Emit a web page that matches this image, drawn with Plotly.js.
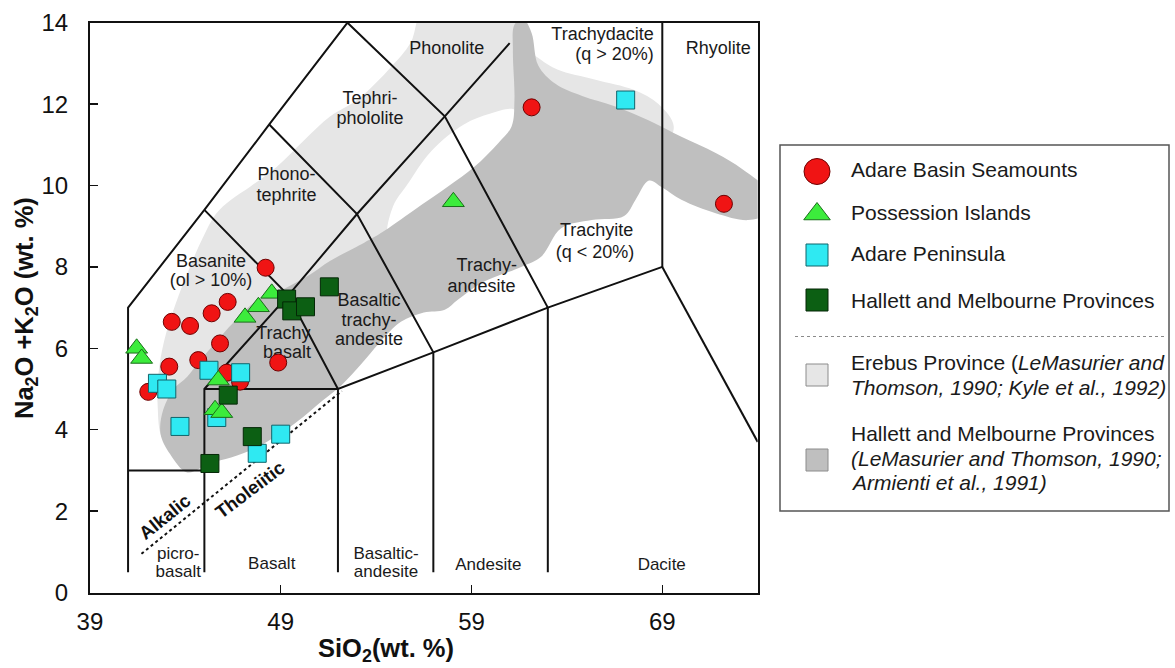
<!DOCTYPE html>
<html>
<head>
<meta charset="utf-8">
<script src="https://cdn.plot.ly/plotly-3.0.1.min.js"></script>
<style>
  html, body { margin: 0; padding: 0; background: #ffffff; }
  #chart { width: 1175px; height: 668px; }
</style>
</head>
<body>
<div id="chart"></div>
<script>
// ---- Sample compositions: SiO2 (wt.%) and total alkalis Na2O+K2O (wt.%) ----
const adareBasinSiO2 = [48.21, 46.22, 45.38, 43.29, 44.25, 45.82, 44.68, 43.16, 42.06, 48.87, 46.17, 46.87, 62.15, 72.23];
const adareBasinAlk  = [7.98, 7.14, 6.86, 6.65, 6.55, 6.12, 5.71, 5.55, 4.93, 5.65, 5.40, 5.18, 11.92, 9.55];

const possessionSiO2 = [41.45, 41.71, 47.13, 47.83, 48.53, 45.73, 45.56, 45.91, 58.05];
const possessionAlk  = [6.00, 5.75, 6.76, 7.02, 7.35, 5.22, 4.49, 4.42, 9.60];

const adarePeninsulaSiO2 = [42.54, 43.03, 43.72, 45.24, 46.90, 45.65, 49.00, 47.77, 67.08];
const adarePeninsulaAlk  = [5.14, 5.00, 4.08, 5.46, 5.40, 4.30, 3.89, 3.42, 12.10];

const hallettSiO2 = [49.31, 49.58, 50.30, 51.55, 46.25, 47.51, 45.29];
const hallettAlk  = [7.21, 6.92, 7.02, 7.51, 4.85, 3.83, 3.17];

// ---- Fields of previously published data (outlines in SiO2 / alkali space) ----
const erebusFieldSiO2 = [42.8, 42.55, 42.6, 42.9, 43.5, 44.2, 44.9, 45.6, 46.4, 47.4, 48.8, 50.2, 51.6, 53.0, 54.8, 55.8, 56.6, 61.5, 61.6, 62.6, 63.5, 65.5, 67.5, 68.8, 69.6, 69.0, 68.0, 63.0, 61.8, 60.5, 57.0, 53.0, 50.0, 47.0, 45.0, 43.5];
const erebusFieldAlk  = [3.8, 4.6, 5.4, 6.2, 7.1, 7.95, 8.7, 9.3, 9.65, 9.97, 10.46, 11.1, 11.7, 12.1, 12.92, 13.5, 14.4, 14.4, 13.5, 13.1, 12.85, 12.6, 12.35, 12.0, 11.45, 10.9, 11.2, 11.5, 11.0, 10.3, 9.0, 7.8, 6.8, 5.5, 4.5, 3.6];

// gap inside the Erebus field (tephriphonolite / trachyandesite area)
const erebusGapSiO2 = [54.6, 54.9, 55.6, 56.9, 58.6, 60.0, 61.3, 61.5, 59.5, 57.0, 55.0];
const erebusGapAlk  = [8.75, 9.5, 10.0, 10.85, 11.5, 11.77, 11.85, 11.0, 10.2, 9.6, 8.6];

const hallettFieldSiO2 = [45.3, 46.4, 47.8, 49.5, 51.2, 52.2, 53.2, 54.2, 55.3, 56.5, 57.6, 58.3, 59.5, 61.6, 62.65, 63.7, 65.3, 67.0, 67.6, 68.3, 69.0, 70.0, 71.8, 73.5, 74.4, 74.4, 73.2, 71.8, 70.0, 68.3, 66.5, 64.8, 63.4, 62.5, 62.15, 61.7, 61.25, 61.17, 61.25, 61.1, 60.4, 59.15, 57.75, 56.0, 54.25, 53.4, 51.6, 50.5, 49.0, 47.8, 46.5, 45.7, 44.8, 44.1, 43.4, 42.85, 42.7, 43.2, 44.1];
const hallettFieldAlk  = [3.18, 3.32, 3.58, 4.07, 4.72, 5.1, 5.6, 6.15, 6.65, 6.88, 6.95, 7.2, 7.6, 8.0, 8.25, 8.95, 9.15, 9.25, 9.65, 10.12, 9.95, 9.65, 9.32, 9.15, 9.3, 9.9, 10.4, 10.8, 11.2, 11.6, 11.95, 12.2, 12.5, 12.95, 13.75, 14.1, 13.95, 13.3, 12.1, 11.45, 11.04, 10.46, 9.97, 9.4, 8.83, 8.6, 8.15, 7.8, 7.42, 7.19, 6.62, 6.2, 5.72, 5.3, 5.0, 4.5, 3.9, 3.4, 2.95];

// ---- TAS classification boundaries (SiO2, Na2O+K2O) ----
const tasBoundaries = [
  [[41, 0.5], [41, 7], [45, 9.4], [48.4, 11.5], [52.5, 14]],
  [[45, 0.5], [45, 5], [49.4, 7.3], [53, 9.3], [57.6, 11.7], [61, 13.5]],
  [[41, 3], [45, 3]],
  [[45, 5], [52, 5], [57, 5.9], [63, 7], [69, 8]],
  [[52, 0.5], [52, 5]],
  [[57, 0.5], [57, 5.9]],
  [[63, 0.5], [63, 7]],
  [[69, 8], [69, 14]],
  [[69, 8], [74, 3.7]],
  [[52, 5], [49.4, 7.3], [45, 9.4]],
  [[57, 5.9], [53, 9.3], [48.4, 11.5]],
  [[63, 7], [57.6, 11.7], [52.5, 14]]
];
const alkalicTholeiiticLine = [[41.7, 0.95], [52.2, 4.95]];

// ---- Field names (one entry per text line) ----
const fieldLabels = [
  ["Basanite", 45.35, 8.12], ["(ol > 10%)", 45.35, 7.63],
  ["Phono-", 49.31, 10.24], ["tephrite", 49.31, 9.72],
  ["Tephri-", 53.68, 12.12], ["phololite", 53.68, 11.62],
  ["Phonolite", 57.70, 13.33],
  ["Rhyolite", 71.93, 13.33],
  ["Trachyite", 65.56, 8.88], ["(q < 20%)", 65.47, 8.33],
  ["Trachy-", 59.80, 8.02], ["andesite", 59.53, 7.50],
  ["Basaltic", 53.63, 7.16], ["trachy-", 53.63, 6.67], ["andesite", 53.63, 6.18],
  ["Trachy", 49.14, 6.34], ["basalt", 49.33, 5.86]
];
const bottomFieldLabels = [
  ["picro-", 43.63, 0.92], ["basalt", 43.63, 0.48],
  ["Basalt", 48.53, 0.68],
  ["Basaltic-", 54.52, 0.92], ["andesite", 54.52, 0.48],
  ["Andesite", 59.88, 0.66],
  ["Dacite", 68.97, 0.66]
];
const rightAlignedLabels = [["Trachydacite", 68.55, 13.69], ["(q > 20%)", 68.55, 13.19]];

const FONT = "Liberation Sans, Arial, Helvetica, sans-serif";
const W = 1175, H = 668;
const px = v => v / W;
const py = v => 1 - v / H;

const series = [
  { name: "Adare Basin Seamounts", x: adareBasinSiO2, y: adareBasinAlk, symbol: "circle", size: 17, color: "#f01414", line: "#6e0000", legendSize: 26 },
  { name: "Adare Peninsula", x: adarePeninsulaSiO2, y: adarePeninsulaAlk, symbol: "square", size: 18, color: "#2fe9f2", line: "#11646b", legendSize: 22 },
  { name: "Possession Islands", x: possessionSiO2, y: possessionAlk, symbol: "triangle-up", size: 19, color: "#3cec3c", line: "#1b6e1b", legendSize: 23 },
  { name: "Hallett and Melbourne Provinces", x: hallettSiO2, y: hallettAlk, symbol: "square", size: 18, color: "#0c5f13", line: "#042706", legendSize: 22 }
];

const traces = [];

function fieldTrace(xs, ys, fill) {
  return {
    x: xs.concat([xs[0]]), y: ys.concat([ys[0]]),
    type: "scatter", mode: "lines", fill: "toself", fillcolor: fill,
    line: { width: 0, shape: "spline", smoothing: 1, color: fill },
    hoverinfo: "skip", showlegend: false
  };
}
traces.push(fieldTrace(erebusFieldSiO2, erebusFieldAlk, "#e6e6e6"));
traces.push(fieldTrace(erebusGapSiO2, erebusGapAlk, "#ffffff"));
traces.push(fieldTrace(hallettFieldSiO2, hallettFieldAlk, "#bfbfbf"));

tasBoundaries.forEach(seg => {
  traces.push({
    x: seg.map(p => p[0]), y: seg.map(p => p[1]),
    type: "scatter", mode: "lines",
    line: { color: "#111111", width: 2 },
    hoverinfo: "skip", showlegend: false
  });
});
traces.push({
  x: alkalicTholeiiticLine.map(p => p[0]), y: alkalicTholeiiticLine.map(p => p[1]),
  type: "scatter", mode: "lines",
  line: { color: "#111111", width: 2, dash: "dot" },
  hoverinfo: "skip", showlegend: false
});

function labelTrace(list, position, size) {
  return {
    x: list.map(l => l[1]), y: list.map(l => l[2]), text: list.map(l => l[0]),
    type: "scatter", mode: "text", textposition: position,
    textfont: { family: FONT, size: size, color: "#1a1a1a" },
    hoverinfo: "skip", showlegend: false, cliponaxis: false
  };
}
traces.push(labelTrace(fieldLabels, "middle center", 18));
traces.push(labelTrace(bottomFieldLabels, "middle center", 17));
traces.push(labelTrace(rightAlignedLabels, "middle left", 18));

series.forEach(s => {
  traces.push({
    x: s.x, y: s.y, name: s.name, type: "scatter", mode: "markers",
    marker: { symbol: s.symbol, size: s.size, color: s.color, opacity: 1, line: { color: s.line, width: 1 } },
    showlegend: false, cliponaxis: false
  });
});

// Legend keys, drawn on a hidden full-page axis pair measured in pixels
const legendOrder = ["Adare Basin Seamounts", "Possession Islands", "Adare Peninsula", "Hallett and Melbourne Provinces"];
const legendRowY = [171.5, 214, 255, 300];
const legendSeries = legendOrder.map(n => series.find(s => s.name === n));
traces.push({
  x: legendSeries.map(() => 817), y: legendRowY,
  xaxis: "x2", yaxis: "y2", type: "scatter", mode: "markers",
  marker: {
    symbol: legendSeries.map(s => s.symbol),
    size: legendSeries.map(s => s.legendSize),
    color: legendSeries.map(s => s.color),
    opacity: 1,
    line: { color: legendSeries.map(s => s.line), width: 1 }
  },
  hoverinfo: "skip", showlegend: false, cliponaxis: false
});

const shapes = [
  // legend frame
  { type: "rect", xref: "paper", yref: "paper", x0: px(780), x1: px(1169), y0: py(511), y1: py(145),
    line: { color: "#555555", width: 1.5 }, fillcolor: "rgba(0,0,0,0)" },
  // separator between samples and reference fields
  { type: "line", xref: "paper", yref: "paper", x0: px(795), x1: px(1166), y0: py(336.5), y1: py(336.5),
    line: { color: "#8a8a8a", width: 1, dash: "dot" } },
  // field swatches
  { type: "rect", xref: "paper", yref: "paper", x0: px(806), x1: px(828), y0: py(386), y1: py(364),
    line: { color: "#8c8c8c", width: 1 }, fillcolor: "#e6e6e6" },
  { type: "rect", xref: "paper", yref: "paper", x0: px(806), x1: px(828), y0: py(471), y1: py(449),
    line: { color: "#8c8c8c", width: 1 }, fillcolor: "#bfbfbf" }
];

const legendFont = { family: FONT, size: 21, color: "#1a1a1a" };
function legendText(text, yPix) {
  return { text: text, xref: "paper", yref: "paper", x: px(849), y: py(yPix),
    xanchor: "left", yanchor: "middle", showarrow: false, font: legendFont };
}

const annotations = [
  legendText("Adare Basin Seamounts", 170),
  legendText("Possession Islands", 213),
  legendText("Adare Peninsula", 253.5),
  legendText("Hallett and Melbourne Provinces", 300),
  legendText("Erebus Province (<i>LeMasurier and</i>", 362),
  legendText("<i>Thomson, 1990; Kyle et al., 1992)</i>", 387),
  legendText("Hallett and Melbourne Provinces", 433.5),
  legendText("<i>(LeMasurier and Thomson, 1990;</i>", 458.5),
  legendText("<i>Armienti et al., 1991)</i>", 482),
  // axis titles
  { text: "<b>SiO<sub>2</sub>(wt. %)</b>", xref: "paper", yref: "paper", x: px(386), y: py(650),
    xanchor: "center", yanchor: "middle", showarrow: false, font: { family: FONT, size: 25.5, color: "#111" } },
  { text: "<b>Na<sub>2</sub>O +K<sub>2</sub>O (wt. %)</b>", xref: "paper", yref: "paper", x: px(26), y: py(308),
    xanchor: "center", yanchor: "middle", textangle: -90, showarrow: false, font: { family: FONT, size: 25.5, color: "#111" } },
  // series divide labels
  { text: "<b>Alkalic</b>", xref: "x", yref: "y", x: 42.94, y: 1.86, textangle: -39,
    xanchor: "center", yanchor: "middle", showarrow: false, font: { family: FONT, size: 18.5, color: "#111" } },
  { text: "<b>Tholeiitic</b>", xref: "x", yref: "y", x: 47.39, y: 2.54, textangle: -37,
    xanchor: "center", yanchor: "middle", showarrow: false, font: { family: FONT, size: 18.5, color: "#111" } }
];

const axisCommon = {
  ticks: "inside", ticklen: 8, tickwidth: 1.5, tickcolor: "#111",
  showline: true, mirror: true, linecolor: "#111", linewidth: 2,
  showgrid: false, zeroline: false,
  tickfont: { family: FONT, size: 24, color: "#111" }
};

const layout = {
  width: W, height: H,
  margin: { l: 0, r: 0, t: 0, b: 0 },
  paper_bgcolor: "#ffffff", plot_bgcolor: "rgba(0,0,0,0)",
  showlegend: false,
  xaxis: Object.assign({}, axisCommon, {
    domain: [px(89.9), px(757.7)], range: [39, 74],
    tickmode: "array", tickvals: [39, 49, 59, 69], ticklabelstandoff: 7
  }),
  yaxis: Object.assign({}, axisCommon, {
    domain: [py(592.5), py(22.7)], range: [0, 14],
    tickmode: "array", tickvals: [0, 2, 4, 6, 8, 10, 12, 14], ticklabelstandoff: 15
  }),
  xaxis2: { domain: [0, 1], range: [0, W], visible: false, fixedrange: true, anchor: "y2" },
  yaxis2: { domain: [0, 1], range: [H, 0], visible: false, fixedrange: true, anchor: "x2" },
  shapes: shapes,
  annotations: annotations
};

Plotly.newPlot("chart", traces, layout, { staticPlot: true, displayModeBar: false });
</script>
</body>
</html>
